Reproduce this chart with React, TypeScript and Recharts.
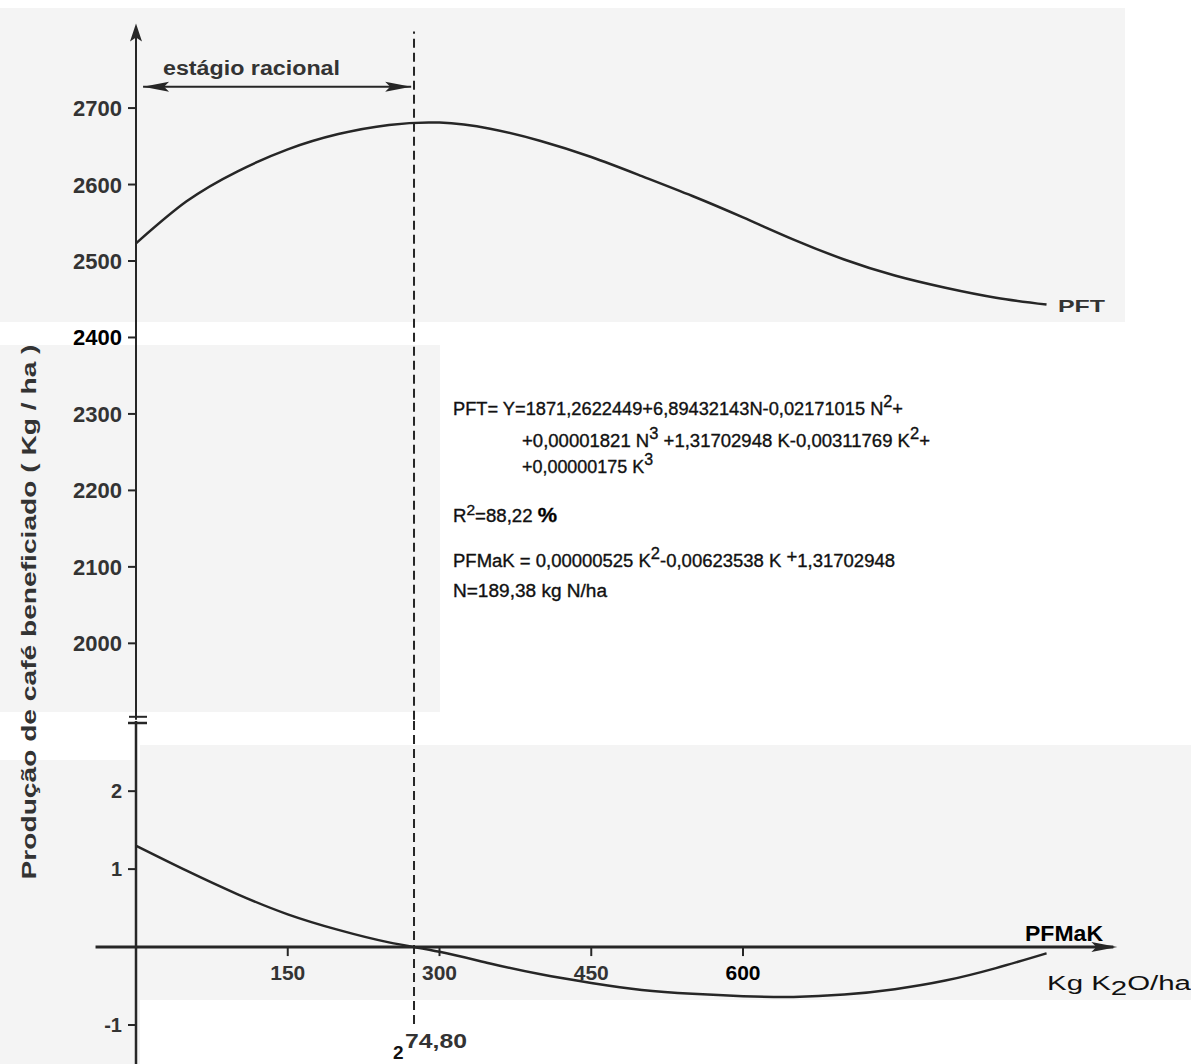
import { Line, LineChart, ReferenceDot, ReferenceLine, XAxis, YAxis } from "recharts";

const kLevels = [0, 50, 100, 150, 200, 250, 300, 350, 400, 450, 500, 550, 600, 650, 700, 750, 800, 850, 900];
// PFT - total physical product (kg/ha of coffee)
const pftYield = [2523, 2578, 2617, 2646, 2666, 2678, 2681, 2673, 2657, 2636, 2611, 2585, 2557, 2528, 2502, 2481, 2465, 2452, 2443];
// PFMaK - marginal physical product of K
const pfmakValues = [1.3, 0.98, 0.68, 0.42, 0.22, 0.06, -0.06, -0.21, -0.35, -0.46, -0.55, -0.6, -0.63, -0.64, -0.61, -0.54, -0.43, -0.27, -0.08];

const pftTicks = [2000, 2100, 2200, 2300, 2400, 2500, 2600, 2700];
const pfmakTicks = [-1, 1, 2];
const kTicks = [150, 300, 450, 600];
const rationalLimit = 274.8;

const data = kLevels.map((k, i) => ({ k, pft: pftYield[i], pfmak: pfmakValues[i] }));

const INK = "#262626";
const FONT = "Liberation Sans, Arial, sans-serif";

function PftTick({ x, y, payload }: any) {
  const pasted = payload.value === 2400;
  return (
    <text x={x} y={y} dy={8} textAnchor="end" fontSize={22} fontWeight="bold" fontFamily={FONT} fill={pasted ? "#000" : "#333"}>
      {payload.value}
    </text>
  );
}

function MarginalTick({ x, y, payload }: any) {
  return (
    <text x={x} y={y} dy={7} textAnchor="end" fontSize={20} fontWeight="bold" fontFamily={FONT} fill="#333">
      {payload.value < 0 ? "-" + Math.abs(payload.value) : payload.value}
    </text>
  );
}

const upArrow = ({ cx, cy }: any) => (
  <path d={`M${cx},${cy - 8} L${cx - 6},${cy + 10} L${cx},${cy + 6} L${cx + 6},${cy + 10} Z`} fill={INK} />
);
const leftArrow = ({ cx, cy }: any) => (
  <path d={`M${cx},${cy} L${cx + 26},${cy - 5} L${cx + 21},${cy} L${cx + 26},${cy + 5} Z`} fill={INK} />
);
const rightArrow = ({ cx, cy }: any) => (
  <path d={`M${cx},${cy} L${cx - 26},${cy - 5} L${cx - 21},${cy} L${cx - 26},${cy + 5} Z`} fill={INK} />
);
const breakTop = ({ cx, cy }: any) => (
  <path d={`M${cx - 7},${cy - 3} L${cx + 11},${cy - 3}`} stroke={INK} strokeWidth={2} />
);
const breakBottom = ({ cx, cy }: any) => (
  <path d={`M${cx - 8},${cy + 2} L${cx + 11},${cy + 2}`} stroke={INK} strokeWidth={2.5} />
);
const kTickMark = ({ cx, cy, value }: any) => (
  <g>
    <line x1={cx} y1={cy} x2={cx} y2={cy + 9} stroke={INK} strokeWidth={2} />
    <text x={cx} y={cy + 33} textAnchor="middle" fontSize={21} fontWeight="bold" fontFamily={FONT} fill={value === 600 ? "#000" : "#333"}>
      {value}
    </text>
  </g>
);

export default function App() {
  const bg = "#f4f4f4";
  return (
    <div style={{ position: "absolute", left: 0, top: 0, width: 1191, height: 1064, background: "#fff", overflow: "hidden" }}>
      {/* scan patches */}
      <div style={{ position: "absolute", left: 0, top: 8, width: 1125, height: 314, background: bg }} />
      <div style={{ position: "absolute", left: 0, top: 345, width: 440, height: 367, background: bg }} />
      <div style={{ position: "absolute", left: 140, top: 745, width: 1051, height: 255, background: bg }} />
      <div style={{ position: "absolute", left: 0, top: 760, width: 140, height: 304, background: bg }} />

      {/* PFT panel */}
      <div style={{ position: "absolute", left: 0, top: 0 }}>
        <LineChart width={1191} height={722} data={data} margin={{ top: 31.6, right: 43.3, bottom: 2.2, left: 0 }}>
          <XAxis dataKey="k" type="number" domain={[0, 1000]} hide />
          <YAxis
            type="number"
            domain={[1900, 2800]}
            ticks={pftTicks}
            width={136}
            axisLine={{ stroke: INK, strokeWidth: 2 }}
            tickLine={{ stroke: INK, strokeWidth: 2 }}
            tickSize={8}
            tickMargin={6}
            tick={<PftTick />}
          />
          <ReferenceLine x={rationalLimit} stroke={INK} strokeWidth={2} strokeDasharray="9 5" />
          <ReferenceLine segment={[{ x: 7, y: 2728 }, { x: 272, y: 2728 }]} stroke={INK} strokeWidth={2} />
          <ReferenceDot x={7} y={2728} r={0} shape={leftArrow} ifOverflow="visible" />
          <ReferenceDot x={272} y={2728} r={0} shape={rightArrow} ifOverflow="visible" />
          <ReferenceDot x={0} y={2800} r={0} shape={upArrow} ifOverflow="visible" />
          <ReferenceDot x={0} y={1900} r={0} shape={breakTop} ifOverflow="visible" />
          <Line type="natural" dataKey="pft" stroke={INK} strokeWidth={2.5} dot={false} isAnimationActive={false} />
        </LineChart>
      </div>

      {/* PFMaK panel */}
      <div style={{ position: "absolute", left: 0, top: 0 }}>
        <LineChart width={1191} height={1064} data={data} margin={{ top: 721, right: 43.3, bottom: 0, left: 0 }}>
          <XAxis dataKey="k" type="number" domain={[0, 1000]} hide />
          <YAxis
            type="number"
            domain={[-1.5, 2.9]}
            ticks={pfmakTicks}
            width={136}
            axisLine={{ stroke: INK, strokeWidth: 2.5 }}
            tickLine={{ stroke: INK, strokeWidth: 2 }}
            tickSize={8}
            tickMargin={6}
            tick={<MarginalTick />}
          />
          <ReferenceLine segment={[{ x: -40, y: 0 }, { x: 966, y: 0 }]} stroke={INK} strokeWidth={3} ifOverflow="visible" />
          <ReferenceDot x={970} y={0} r={0} shape={rightArrow} ifOverflow="visible" />
          <ReferenceLine
            segment={[{ x: rationalLimit, y: 2.9 }, { x: rationalLimit, y: -1.05 }]}
            stroke={INK}
            strokeWidth={2}
            strokeDasharray="9 5"
          />
          <ReferenceDot x={0} y={2.9} r={0} shape={breakBottom} ifOverflow="visible" />
          {kTicks.map((t) => (
            <ReferenceDot key={t} x={t} y={0} r={0} shape={(p: any) => kTickMark({ ...p, value: t })} />
          ))}
          <Line type="natural" dataKey="pfmak" stroke={INK} strokeWidth={2.5} dot={false} isAnimationActive={false} />
        </LineChart>
      </div>

      {/* texts */}
      <svg width={1191} height={1064} style={{ position: "absolute", left: 0, top: 0, pointerEvents: "none" }} fontFamily={FONT}>
        <text x={163} y={75} fontSize={20} fontWeight="bold" fill="#333" textLength={177} lengthAdjust="spacingAndGlyphs">
          estágio racional
        </text>
        <text x={1058} y={312} fontSize={17} fontWeight="bold" fill="#333" textLength={47} lengthAdjust="spacingAndGlyphs">
          PFT
        </text>
        <text
          transform="translate(36,612) rotate(-90)"
          textAnchor="middle"
          fontSize={20}
          fontWeight="bold"
          fill="#333"
          textLength={535}
          lengthAdjust="spacingAndGlyphs"
        >
          Produção  de  café  beneficiado  ( Kg / ha )
        </text>

        <g fill="#111" stroke="#111" strokeWidth={0.35} fontSize={18}>
          <text x={453} y={415} textLength={450} lengthAdjust="spacingAndGlyphs">
            PFT= Y=1871,2622449+6,89432143N-0,02171015 N<tspan dy={-8} fontSize={16}>2</tspan>
            <tspan dy={8}>+</tspan>
          </text>
          <text x={522} y={447} textLength={408} lengthAdjust="spacingAndGlyphs">
            +0,00001821 N<tspan dy={-8} fontSize={16}>3</tspan>
            <tspan dy={8}> +1,31702948 K-0,00311769 K</tspan>
            <tspan dy={-8} fontSize={16}>2</tspan>
            <tspan dy={8}>+</tspan>
          </text>
          <text x={522} y={473} textLength={131} lengthAdjust="spacingAndGlyphs">
            +0,00000175 K<tspan dy={-8} fontSize={16}>3</tspan>
          </text>
          <text x={453} y={522} textLength={104} lengthAdjust="spacingAndGlyphs">
            R<tspan dy={-7} fontSize={15}>2</tspan>
            <tspan dy={7}>=88,22 </tspan>
            <tspan fontWeight="bold" fill="#000" fontSize={21}>%</tspan>
          </text>
          <text x={453} y={567} textLength={442} lengthAdjust="spacingAndGlyphs">
            PFMaK = 0,00000525 K<tspan dy={-8} fontSize={16}>2</tspan>
            <tspan dy={8}>-0,00623538 K </tspan>
            <tspan dy={-4}>+</tspan>
            <tspan dy={4}>1,31702948</tspan>
          </text>
          <text x={453} y={597} textLength={154} lengthAdjust="spacingAndGlyphs">
            N=189,38 kg N/ha
          </text>
        </g>

        <text x={1025} y={941} fontSize={22} fontWeight="bold" fill="#000" textLength={78} lengthAdjust="spacingAndGlyphs">
          PFMaK
        </text>
        <text x={1047} y={990} fontSize={20} fill="#111" textLength={144} lengthAdjust="spacingAndGlyphs">
          Kg K<tspan dy={5}>2</tspan>
          <tspan dy={-5}>O/ha</tspan>
        </text>

        <text x={393} y={1059} fontSize={19} fontWeight="bold" fill="#111">
          2
        </text>
        <text x={405} y={1048} fontSize={21} fontWeight="bold" fill="#333" textLength={62} lengthAdjust="spacingAndGlyphs">
          74,80
        </text>
      </svg>
    </div>
  );
}
